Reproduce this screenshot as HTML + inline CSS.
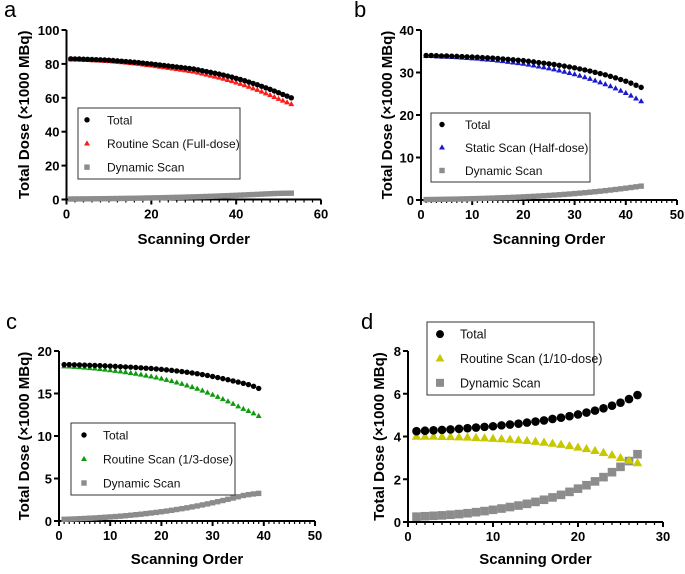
<!DOCTYPE html>
<html><head><meta charset="utf-8"><style>
body{margin:0;background:#fff;}
svg text{font-family:"Liberation Sans",Arial,sans-serif;}
</style></head><body>
<svg id="fig" width="685" height="569" viewBox="0 0 685 569" xmlns="http://www.w3.org/2000/svg"></svg>
<script>
// Panel a
const aX = Array.from({length:53},(_, i)=>i+1);
const aTotal = [83.0,82.95,82.9,82.8,82.7,82.6,82.5,82.4,82.3,82.2,82.0,81.8,81.6,81.4,81.2,81.0,80.8,80.5,80.2,80.0,79.7,79.4,79.1,78.8,78.5,78.2,77.9,77.6,77.3,77.0,76.5,76.0,75.5,75.0,74.5,74.0,73.4,72.8,72.2,71.5,70.8,70.1,69.3,68.5,67.7,66.8,65.9,65.0,64.0,63.0,62.0,61.0,60.0];
const aRoutine = [82.7,82.63,82.56,82.44,82.32,82.2,82.07,81.94,81.81,81.68,81.45,81.22,80.98,80.74,80.5,80.26,80.02,79.67,79.32,79.07,78.72,78.37,78.01,77.65,77.29,76.93,76.56,76.19,75.82,75.45,74.87,74.29,73.71,73.12,72.53,71.94,71.24,70.54,69.84,69.03,68.22,67.41,66.5,65.58,64.66,63.64,62.62,61.6,60.48,59.4,58.35,57.3,56.25];
const aDynamic = [0.30,0.32,0.34,0.36,0.38,0.40,0.43,0.46,0.49,0.52,0.55,0.58,0.62,0.66,0.70,0.74,0.78,0.83,0.88,0.93,0.98,1.03,1.09,1.15,1.21,1.27,1.34,1.41,1.48,1.55,1.63,1.71,1.79,1.88,1.97,2.06,2.16,2.26,2.36,2.47,2.58,2.69,2.80,2.92,3.04,3.16,3.28,3.40,3.52,3.60,3.65,3.70,3.75];
const aXTicks = [0,20,40,60];
const aYTicks = [0,20,40,60,80,100];
// Panel b
const bX = Array.from({length:43},(_, i)=>i+1);
const bTotal = [34.0,34.0,33.95,33.9,33.9,33.85,33.8,33.75,33.7,33.65,33.6,33.5,33.45,33.4,33.3,33.2,33.1,33.0,32.9,32.8,32.65,32.5,32.35,32.2,32.05,31.9,31.7,31.5,31.3,31.1,30.85,30.6,30.35,30.05,29.75,29.45,29.1,28.75,28.35,27.95,27.5,27.0,26.5];
const bStatic = [33.9,33.88,33.81,33.74,33.72,33.65,33.58,33.5,33.42,33.34,33.26,33.13,33.04,32.95,32.81,32.67,32.52,32.37,32.22,32.06,31.85,31.64,31.42,31.2,30.98,30.75,30.47,30.18,29.89,29.59,29.24,28.88,28.52,28.1,27.68,27.25,26.76,26.27,25.72,25.17,24.56,23.9,23.24];
const bDynamic = [0.10,0.12,0.14,0.16,0.18,0.20,0.22,0.25,0.28,0.31,0.34,0.37,0.41,0.45,0.49,0.53,0.58,0.63,0.68,0.74,0.80,0.86,0.93,1.00,1.07,1.15,1.23,1.32,1.41,1.51,1.61,1.72,1.83,1.95,2.07,2.20,2.34,2.48,2.63,2.78,2.94,3.10,3.26];
const bXTicks = [0,10,20,30,40,50];
const bYTicks = [0,10,20,30,40];
// Panel c
const cX = Array.from({length:39},(_, i)=>i+1);
const cTotal = [18.4,18.4,18.38,18.36,18.34,18.32,18.3,18.28,18.25,18.22,18.19,18.16,18.13,18.1,18.06,18.02,17.98,17.94,17.89,17.84,17.78,17.72,17.65,17.58,17.5,17.42,17.33,17.23,17.12,17.0,16.88,16.75,16.62,16.48,16.34,16.2,16.05,15.85,15.6];
const cRoutine = [18.2,18.18,18.14,18.09,18.04,17.99,17.94,17.88,17.81,17.74,17.67,17.59,17.51,17.42,17.32,17.22,17.11,17.0,16.88,16.75,16.61,16.46,16.3,16.13,15.95,15.76,15.56,15.34,15.11,14.86,14.61,14.34,14.07,13.78,13.49,13.2,12.95,12.67,12.35];
const cDynamic = [0.20,0.22,0.24,0.27,0.30,0.33,0.36,0.40,0.44,0.48,0.52,0.57,0.62,0.68,0.74,0.80,0.87,0.94,1.01,1.09,1.17,1.26,1.35,1.45,1.55,1.66,1.77,1.89,2.01,2.14,2.27,2.41,2.55,2.70,2.85,3.00,3.10,3.18,3.25];
const cXTicks = [0,10,20,30,40,50];
const cYTicks = [0,5,10,15,20];
// Panel d
const dX = Array.from({length:27},(_, i)=>i+1);
const dTotal = [4.25,4.27,4.29,4.31,4.33,4.36,4.39,4.42,4.45,4.48,4.52,4.56,4.60,4.65,4.70,4.75,4.82,4.88,4.95,5.03,5.12,5.21,5.32,5.44,5.58,5.75,5.94];
const dRoutine = [4.00,4.00,4.00,3.99,3.98,3.97,3.96,3.94,3.92,3.90,3.88,3.86,3.83,3.80,3.76,3.72,3.67,3.62,3.56,3.49,3.42,3.33,3.24,3.13,3.00,2.88,2.76];
const dDynamic = [0.25,0.27,0.29,0.31,0.34,0.37,0.41,0.46,0.51,0.57,0.63,0.70,0.77,0.85,0.94,1.04,1.15,1.27,1.41,1.56,1.72,1.90,2.10,2.33,2.58,2.85,3.17];
const dXTicks = [0,10,20,30];
const dYTicks = [0,2,4,6,8];

const NS = "http://www.w3.org/2000/svg";
const svg = document.getElementById('fig');
function mk(tag, attrs, parent){
  const e = document.createElementNS(NS, tag);
  for (const k in attrs) e.setAttribute(k, attrs[k]);
  (parent||svg).appendChild(e);
  return e;
}
function marker(g, type, cx, cy, r, color){
  let e;
  if (type==='circle') e = mk('circle',{cx:cx,cy:cy,r:r,fill:color},g);
  else if (type==='tri') e = mk('polygon',{points:`${cx},${cy-r*1.15} ${cx-r*1.1},${cy+r*0.75} ${cx+r*1.1},${cy+r*0.75}`,fill:color},g);
  else e = mk('rect',{x:cx-r,y:cy-r,width:2*r,height:2*r,fill:color},g);
  return e;
}
function panel(p){
  const g = mk('g',{});
  
  
  const xs = v => p.x0 + (v - p.xmin)/(p.xmax - p.xmin)*(p.x1 - p.x0);
  const ys = v => p.y0 - (v - p.ymin)/(p.ymax - p.ymin)*(p.y0 - p.y1);
  const lbl = mk('text',{x:p.lx,y:p.ly,'font-size':22,fill:'#000'},g);
  lbl.textContent = p.id;
  
  
  // axes
  const ax = mk('path',{d:`M${p.x0},${p.y1} L${p.x0},${p.y0} L${p.x1},${p.y0}`,stroke:'#000','stroke-width':2,fill:'none'},g);
  
  
  for (let v=p.xmin; v<=p.xmax+1e-9; v+=p.minor){
    const X = xs(v);
    const major = p.xticks.some(t=>Math.abs(t-v)<1e-9);
    mk('line',{x1:X,y1:p.y0,x2:X,y2:p.y0+(major?5:3),stroke:'#000','stroke-width':major?2:1.2},g);
  }
  p.xticks.forEach(t=>{
    const tx = mk('text',{x:xs(t),y:p.y0+19,'font-size':13,'font-weight':'bold','text-anchor':'middle'},g);
    tx.textContent = t;
    
    
  });
  p.yticks.forEach(t=>{
    const Y = ys(t);
    mk('line',{x1:p.x0-5,y1:Y,x2:p.x0,y2:Y,stroke:'#000','stroke-width':2},g);
    const ty = mk('text',{x:p.x0-7,y:Y+5,'font-size':13,'font-weight':'bold','text-anchor':'end'},g);
    ty.textContent = t;
    
    
  });
  const xt = mk('text',{x:(p.x0+p.x1)/2,y:p.xty,'font-size':15,'font-weight':'bold','text-anchor':'middle'},g);
  xt.textContent = 'Scanning Order';
  
  
  const yt = mk('text',{x:0,y:0,'font-size':15,'font-weight':'bold','text-anchor':'middle',transform:`translate(${p.ytx},${(p.y0+p.y1)/2}) rotate(-90)`},g);
  yt.textContent = 'Total Dose (×1000 MBq)';
  
  
  // series (dynamic drawn first, then routine, then total)
  const order = [2,1,0];
  order.forEach(si=>{
    const s = p.series[si];
    const sg = mk('g',{},g);
    
    
    s.vals.forEach((v,i)=>{
      const m = marker(sg, s.type, xs(p.xv[i]), ys(v), p.r, s.color);
      
      
    });
  });
  // legend
  const lg = mk('g',{},g);
  
  
  mk('rect',{x:p.leg[0],y:p.leg[1],width:p.leg[2],height:p.leg[3],fill:'#fff',stroke:'#333','stroke-width':1},lg);
  const rowH = p.leg[3]/3;
  p.series.forEach((s,i)=>{
    const cy = p.leg[1] + rowH*(i+0.5);
    const m = marker(lg, s.type, p.leg[0]+p.lmx, cy, p.lr, s.color);
    
    
    const t = mk('text',{x:p.leg[0]+p.ltx,y:cy+4.5,'font-size':p.lfs,fill:'#111'},lg);
    t.textContent = s.name;
    
    
  });
}
panel({id:'a',lx:4,ly:17,x0:66.5,x1:321,y0:199.5,y1:30,xmin:0,xmax:60,ymin:0,ymax:100,minor:2,xticks:aXTicks,yticks:aYTicks,xty:244,ytx:29,r:2.7,xv:aX,
  leg:[78,108,162,71],lmx:9,ltx:29,lr:2.7,lfs:12,
  series:[{key:'total',name:'Total',type:'circle',color:'#000',vals:aTotal},{key:'routine',name:'Routine Scan (Full-dose)',type:'tri',color:'#ff1a1a',vals:aRoutine},{key:'dynamic',name:'Dynamic Scan',type:'sq',color:'#8c8c8c',vals:aDynamic}]});
panel({id:'b',lx:354,ly:17,x0:421,x1:677,y0:200,y1:30,xmin:0,xmax:50,ymin:0,ymax:40,minor:1,xticks:bXTicks,yticks:bYTicks,xty:244,ytx:392,r:2.7,xv:bX,
  leg:[431,113,159,69],lmx:11,ltx:34,lr:2.7,lfs:12,
  series:[{key:'total',name:'Total',type:'circle',color:'#000',vals:bTotal},{key:'static',name:'Static Scan (Half-dose)',type:'tri',color:'#1a1acc',vals:bStatic},{key:'dynamic',name:'Dynamic Scan',type:'sq',color:'#8c8c8c',vals:bDynamic}]});
panel({id:'c',lx:6,ly:329,x0:59,x1:315,y0:521,y1:351,xmin:0,xmax:50,ymin:0,ymax:20,minor:1,xticks:cXTicks,yticks:cYTicks,xty:564,ytx:29,r:2.7,xv:cX,
  leg:[71,423,164,72],lmx:13,ltx:32,lr:2.7,lfs:12,
  series:[{key:'total',name:'Total',type:'circle',color:'#000',vals:cTotal},{key:'routine',name:'Routine Scan (1/3-dose)',type:'tri',color:'#0f9a0f',vals:cRoutine},{key:'dynamic',name:'Dynamic Scan',type:'sq',color:'#8c8c8c',vals:cDynamic}]});
panel({id:'d',lx:361,ly:329,x0:408,x1:663,y0:522,y1:351,xmin:0,xmax:30,ymin:0,ymax:8,minor:1,xticks:dXTicks,yticks:dYTicks,xty:564,ytx:384,r:4.3,xv:dX,
  leg:[427,322,167,73],lmx:13,ltx:33,lr:4,lfs:12.5,
  series:[{key:'total',name:'Total',type:'circle',color:'#000',vals:dTotal},{key:'routine',name:'Routine Scan (1/10-dose)',type:'tri',color:'#c8c800',vals:dRoutine},{key:'dynamic',name:'Dynamic Scan',type:'sq',color:'#8c8c8c',vals:dDynamic}]});
</script>
</body></html>
